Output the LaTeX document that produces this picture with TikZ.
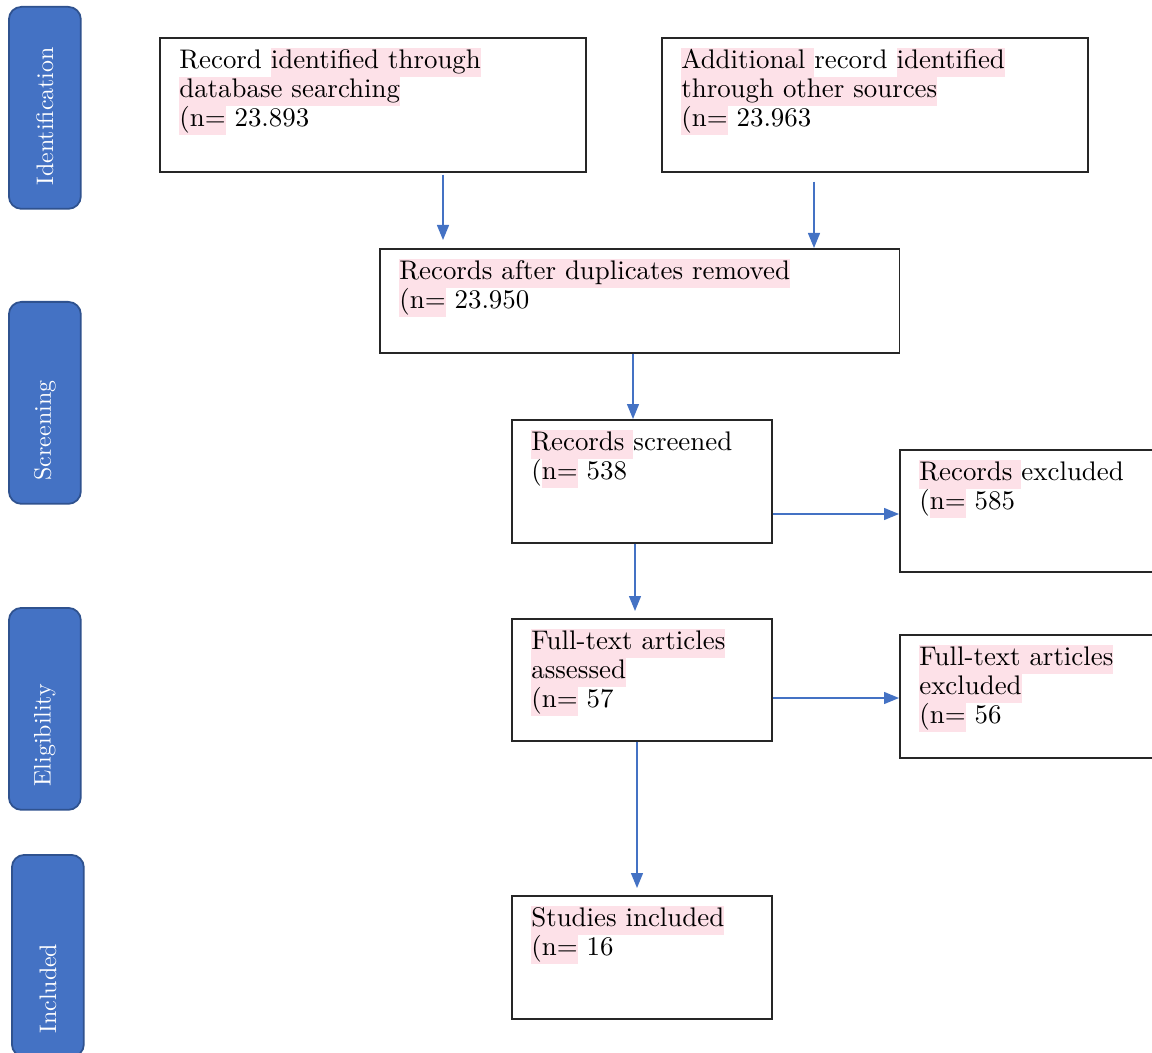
\documentclass[tikz,border=0pt]{standalone}
\usepackage{fontspec}
\setmainfont{lmroman10-regular.otf}
\usepackage{xcolor}
\usepackage{tikz}
\usetikzlibrary{arrows.meta}
\usetikzlibrary{calc}

\definecolor{bandblue}{HTML}{4472C4}
\definecolor{bandedge}{HTML}{2F528F}
\definecolor{hlpink}{HTML}{FDE1E8}
\newcommand{\hl}[1]{{\setlength{\fboxsep}{0pt}\colorbox{hlpink}{\strut#1}}}

\begin{document}
\begin{tikzpicture}[x=0.02cm, y=-0.02cm,
	band/.style={draw=bandedge, line width=1pt, fill=bandblue, rounded corners=0.25cm, anchor=north west, inner sep=0pt, minimum width=1.44cm, minimum height=4.04cm},
	bandtxt/.style={text=white, rotate=90, anchor=west, inner sep=0pt, font=\fontsize{13.6}{16}\selectfont},
	stage/.style={draw=black!85, line width=0.9pt, anchor=north west, inner sep=0pt},
	stagetxt/.style={anchor=north west, inner sep=0pt, align=left, font=\fontsize{15.3}{16.5}\selectfont},
	flow/.style={draw=bandblue, line width=0.75pt, -{Triangle[length=0.3cm,width=0.24cm]}}]
	\useasboundingbox (0,0) rectangle (1152,1053);

	\node [band] (idband) at (8,6) {};
	\node [band] (scrband) at (8,301) {};
	\node [band] (eliband) at (8,607) {};
	\node [band] (incband) at (11,854) {};
	\node [bandtxt] (idlbl) at ([yshift=0.48cm]idband.south) {Identification};
	\node [bandtxt] (scrlbl) at ([yshift=0.48cm]scrband.south) {Screening};
	\node [bandtxt] (elilbl) at ([yshift=0.48cm]eliband.south) {Eligibility};
	\node [bandtxt] (inclbl) at ([yshift=0.48cm]incband.south) {Included};

	\node [stage, minimum width=8.52cm, minimum height=2.68cm] (recdb) at (159,37) {};
	\node [stage, minimum width=8.52cm, minimum height=2.68cm] (recother) at (661,37) {};
	\node [stage, minimum width=10.4cm, minimum height=2.08cm] (dedup) at (379,248) {};
	\node [stage, minimum width=5.2cm, minimum height=2.46cm] (screened) at (511,419) {};
	\node [stage, minimum width=5.6cm, minimum height=2.44cm] (excluded) at (899,449) {};
	\node [stage, minimum width=5.2cm, minimum height=2.44cm] (assessed) at (511,618) {};
	\node [stage, minimum width=5.6cm, minimum height=2.46cm] (ftexcl) at (899,634) {};
	\node [stage, minimum width=5.2cm, minimum height=2.46cm] (included) at (511,895) {};

	\node [stagetxt] (recdbtxt) at ([xshift=0.4cm,yshift=-0.22cm]recdb.north west)
		{Record \hl{identified through}\\
		\hl{database searching}\\
		\hl{(n=} 23.893};
	\node [stagetxt] (recothertxt) at ([xshift=0.4cm,yshift=-0.22cm]recother.north west)
		{\hl{Additional }record \hl{identified}\\
		\hl{through other sources}\\
		\hl{(n=} 23.963};
	\node [stagetxt] (deduptxt) at ([xshift=0.4cm,yshift=-0.22cm]dedup.north west)
		{\hl{Records after duplicates removed}\\
		\hl{(n=} 23.950};
	\node [stagetxt] (screenedtxt) at ([xshift=0.4cm,yshift=-0.22cm]screened.north west)
		{\hl{Records }screened\\
		(\hl{n=} 538};
	\node [stagetxt] (excludedtxt) at ([xshift=0.4cm,yshift=-0.22cm]excluded.north west)
		{\hl{Records }excluded\\
		(\hl{n=} 585};
	\node [stagetxt] (assessedtxt) at ([xshift=0.4cm,yshift=-0.22cm]assessed.north west)
		{\hl{Full-text articles}\\
		\hl{assessed}\\
		\hl{(n=} 57};
	\node [stagetxt] (ftexcltxt) at ([xshift=0.4cm,yshift=-0.22cm]ftexcl.north west)
		{\hl{Full-text articles}\\
		\hl{excluded}\\
		\hl{(n=} 56};
	\node [stagetxt] (includedtxt) at ([xshift=0.4cm,yshift=-0.22cm]included.north west)
		{\hl{Studies included}\\
		\hl{(n=} 16};

	\coordinate (ac) at (443,0);
	\coordinate (bc) at (814,0);
	\coordinate (cd) at (633,0);
	\coordinate (df) at (635,0);
	\coordinate (fh) at (637,0);
	\coordinate (de) at (0,514);
	\coordinate (fg) at (0,698);

	\draw [flow, shorten <=0.04cm, shorten >=0.16cm] (recdb.south -| ac) -- (dedup.north -| ac);
	\draw [flow, shorten <=0.18cm] (recother.south -| bc) -- (dedup.north -| bc);
	\draw [flow] (dedup.south -| cd) -- (screened.north -| cd);
	\draw [flow, shorten >=0.14cm] (screened.south -| df) -- (assessed.north -| df);
	\draw [flow] (screened.east |- de) -- (excluded.west |- de);
	\draw [flow] (assessed.east |- fg) -- (ftexcl.west |- fg);
	\draw [flow, shorten >=0.14cm] (assessed.south -| fh) -- (included.north -| fh);
\end{tikzpicture}
\end{document}
